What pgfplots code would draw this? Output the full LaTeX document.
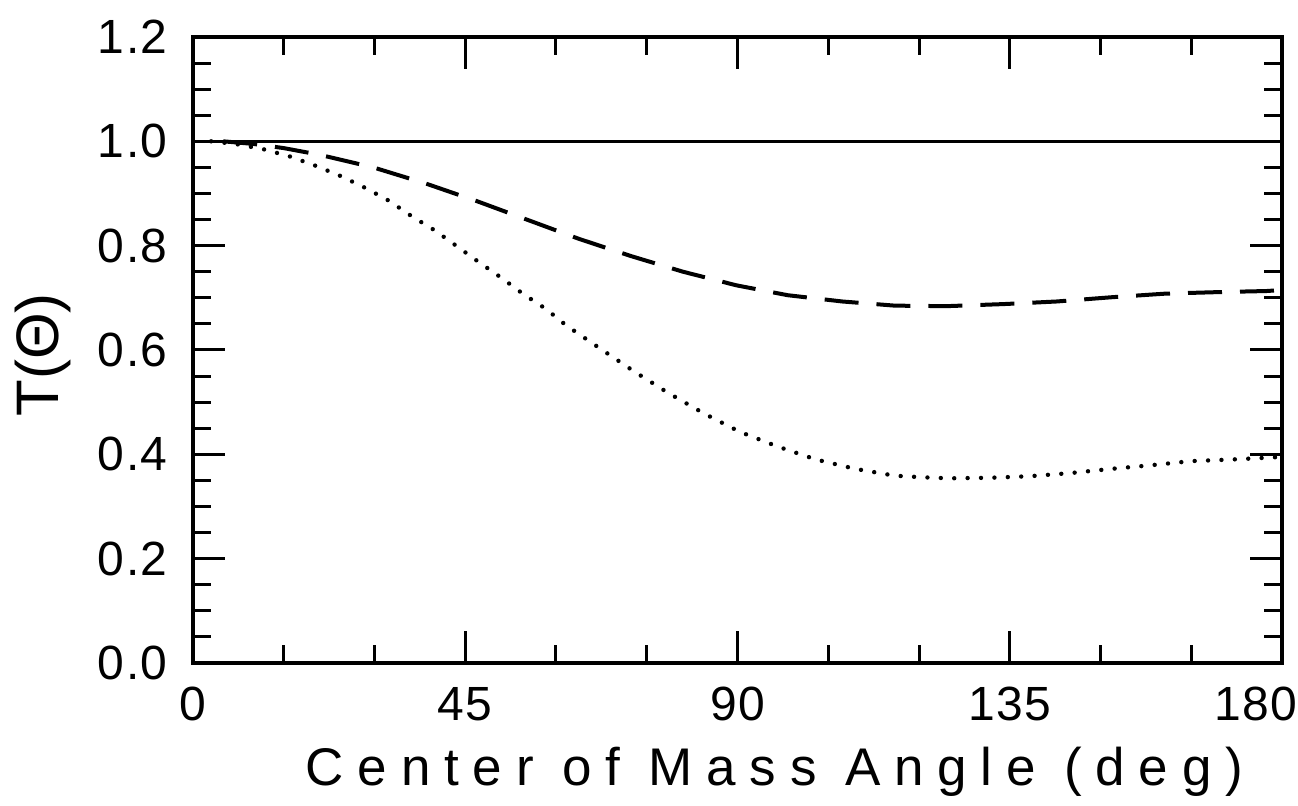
\documentclass[border=0pt]{standalone}
\usepackage{fontspec}
\setmainfont{Liberation Sans}
\newfontfamily\lblfont{Liberation Sans}[LetterSpace=26]
\newfontfamily\tickfont{Liberation Sans}[LetterSpace=3]
\usepackage{pgfplots}
\pgfplotsset{compat=1.18}
\pgfplotstableread{
x y
5 1.000
10 0.995
15 0.987
21 0.974
29.8 0.950
38.5 0.919
47 0.885
55.4 0.849
63.8 0.813
72.4 0.780
81 0.750
89.8 0.724
98.3 0.705
107.3 0.693
116 0.685
124.5 0.684
134 0.688
142.8 0.693
151.7 0.701
160.7 0.708
169.6 0.711
177.4 0.713
180 0.715
}\dashdata
\pgfplotstableread{
x y
3 1.000
7 0.995
11.6 0.985
16 0.971
20.3 0.953
24.5 0.933
28.6 0.910
32.4 0.886
36.2 0.856
40 0.829
43.6 0.799
47.3 0.768
50.9 0.739
54.5 0.708
58.3 0.679
61.7 0.647
67.4 0.602
72.9 0.559
78.5 0.518
84.5 0.478
90.4 0.443
96.6 0.415
103 0.390
109.5 0.372
116 0.359
120.5 0.356
125 0.354
131.7 0.355
138.3 0.358
145 0.364
151.7 0.372
158.3 0.379
165 0.387
171.6 0.390
180 0.395
}\dotdata
\begin{document}
\begin{tikzpicture}
\useasboundingbox (-96.5pt,-71.5pt) rectangle (552.5pt,331.5pt);
\begin{axis}[
  at={(0,0)}, anchor=south west,
  scale only axis,
  width=544.5pt, height=313pt,
  xmin=0, xmax=180, ymin=0, ymax=1.2,
  axis line style={line width=2pt},
  xtick={0,45,90,135},
  extra x ticks={180},
  extra x tick style={xticklabel style={xshift=-13pt}},
  minor xtick={15,30,60,75,105,120,150,165},
  ytick={0,0.2,0.4,0.6,0.8,1.0,1.2},
  minor ytick={0.05,0.1,0.15,0.25,0.3,0.35,0.45,0.5,0.55,0.65,0.7,0.75,0.85,0.9,0.95,1.05,1.1,1.15},
  tick align=inside,
  major tick length=16pt,
  minor tick length=9pt,
  every tick/.style={line width=1.5pt, black},
  /pgf/number format/assume math mode=true,
  ticklabel style={font=\tickfont\fontsize{24}{26}\selectfont, inner sep=0pt},
  yticklabel style={/pgf/number format/fixed, /pgf/number format/fixed zerofill, /pgf/number format/precision=1, xshift=-12.5pt},
  xticklabel style={yshift=-12pt},
  xlabel={Center of Mass Angle (deg)},
  ylabel={T(Θ)},
  xlabel style={font=\lblfont\fontsize{26.5}{28}\selectfont, inner sep=0pt, at={(axis description cs:0.534,0)}, anchor=north, yshift=-42pt},
  ylabel style={font=\fontsize{30}{32}\selectfont, inner sep=0pt, at={(axis description cs:-0.1377,0.492)}, anchor=center, rotate=0},
  clip=true,
]
\addplot[black, line width=1.5pt] coordinates {(0,1.0) (180,1.0)};
\addplot[black, line width=2pt, dash pattern=on 17pt off 9pt] table[x=x,y=y] {\dashdata};
\addplot[black, line width=2.2pt, line cap=round, dash pattern=on 0pt off 6.7pt] table[x=x,y=y] {\dotdata};
\end{axis}
\end{tikzpicture}
\end{document}
